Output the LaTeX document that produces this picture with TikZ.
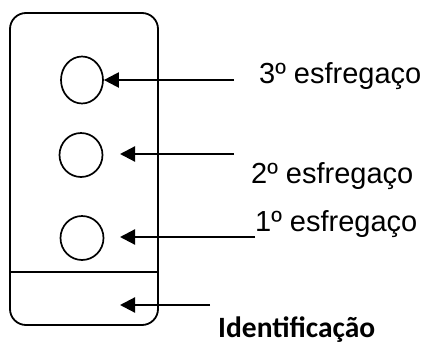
\documentclass[tikz,border=0pt]{standalone}
\usepackage{fontspec}
\setmainfont{Liberation Sans}
\newfontfamily\idfont{Carlito}
\usetikzlibrary{arrows.meta,shapes.geometric}

\begin{document}
\begin{tikzpicture}[x=1pt,y=-1pt,
  seta/.style={line width=2.2pt,-{Triangle[length=15pt,width=15pt]}},
  mancha/.style={draw,ellipse,line width=1.7pt,inner sep=0pt},
  rotulo/.style={anchor=base west,inner sep=0pt,font=\fontsize{29}{34}\selectfont}]
\useasboundingbox (0,0) rectangle (428,343);
  % lamina
  \node[draw, line width=1.8pt, rounded corners=16pt, minimum width=148pt, minimum height=312pt, inner sep=0pt] (lamina) at (84,169) {};
  \coordinate (divE) at (10,272);
  \coordinate (divD) at (158,272);
  \draw[line width=1.8pt] (divE) -- (divD);
  % esfregacos
  \node[mancha, minimum width=42pt, minimum height=47pt] (e3) at (82,80) {};
  \node[mancha, minimum width=43pt, minimum height=44pt] (e2) at (81,155) {};
  \node[mancha, minimum width=43pt, minimum height=44pt] (e1) at (82,238) {};
  % rotulos
  \node[rotulo] (t3) at (259,83) {3º esfregaço};
  \node[rotulo] (t2) at (251,183) {2º esfregaço};
  \node[rotulo] (t1) at (255,231) {1º esfregaço};
  \node[anchor=base west, inner sep=0pt, font=\idfont\bfseries\fontsize{29.5}{34}\selectfont] (id) at (218,337) {Identificação};
  % setas
  \coordinate (s3) at (234,80);
  \coordinate (s2) at (234,154);
  \coordinate (p2) at (120,154);
  \coordinate (s1) at (255,237);
  \coordinate (p1) at (120,237);
  \coordinate (s0) at (210,305);
  \coordinate (p0) at (120,305);
  \draw[seta] (s3) -- (e3.east);
  \draw[seta] (s2) -- (p2);
  \draw[seta] (s1) -- (p1);
  \draw[seta] (s0) -- (p0);
\end{tikzpicture}
\end{document}
